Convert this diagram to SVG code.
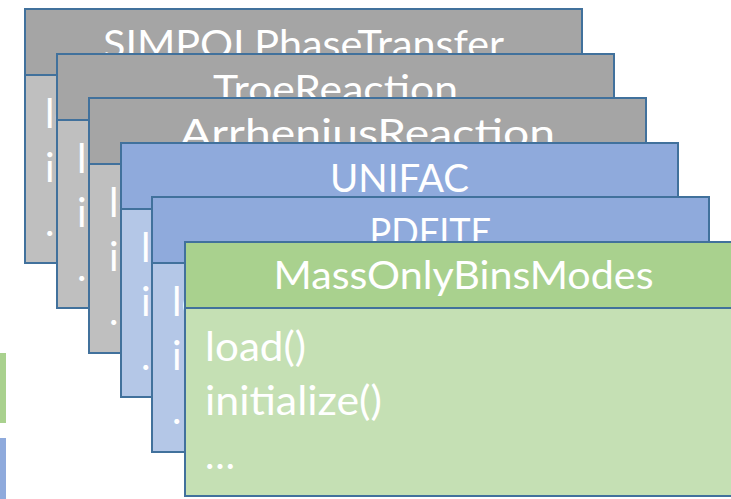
<svg xmlns="http://www.w3.org/2000/svg" width="731" height="499" viewBox="0 0 731 499">
  <style>
    .frame { stroke: #41719C; stroke-width: 2; }
    .hdr-gray { fill: #A5A5A5; }
    .body-gray { fill: #BFBFBF; }
    .hdr-blue { fill: #8FAADC; }
    .body-blue { fill: #B4C7E7; }
    .hdr-green { fill: #A9D18E; }
    .body-green { fill: #C5E0B4; }
    .title { font-family: Lato, "Open Sans", "Liberation Sans", sans-serif; font-size: 39px; fill: #FFFFFF; text-anchor: middle; }
    .item { font-family: Lato, "Open Sans", "Liberation Sans", sans-serif; font-size: 40px; fill: #FFFFFF; }
  </style>

  <defs>
    <!-- visible parts of each card that is partly covered by the next one -->
    <clipPath id="t1"><rect x="25" y="9" width="557" height="45"/></clipPath>
    <clipPath id="b1"><rect x="25" y="75" width="32" height="188"/></clipPath>
    <clipPath id="t2"><rect x="57" y="54" width="557" height="44"/></clipPath>
    <clipPath id="b2"><rect x="57" y="120" width="32" height="188"/></clipPath>
    <clipPath id="t3"><rect x="89" y="98" width="557" height="45"/></clipPath>
    <clipPath id="b3"><rect x="89" y="164" width="32" height="189"/></clipPath>
    <clipPath id="t4"><rect x="121" y="143" width="557" height="54"/></clipPath>
    <clipPath id="b4"><rect x="121" y="209" width="31" height="188"/></clipPath>
    <clipPath id="t5"><rect x="152" y="197" width="557" height="45"/></clipPath>
    <clipPath id="b5"><rect x="152" y="263" width="33" height="189"/></clipPath>
  </defs>

  <rect width="731" height="499" fill="#FFFFFF"/>

  <!-- partial swatches at the left margin -->
  <g id="swatches">
    <rect x="-2" y="353" width="8" height="70" fill="#A9D18E"/>
    <rect x="-2" y="438" width="8" height="63" fill="#8FAADC"/>
  </g>

  <!-- stacked class cards, back to front -->
  <g id="card-simpol">
    <rect class="frame body-gray" x="25" y="75" width="557" height="188"/>
    <rect class="frame hdr-gray" x="25" y="9" width="557" height="66"/>
    <text class="title" x="303.5" y="57.5" textLength="401" lengthAdjust="spacingAndGlyphs" clip-path="url(#t1)">SIMPOLPhaseTransfer</text>
    <g clip-path="url(#b1)">
      <text class="item" x="45" y="128">load()</text>
      <text class="item" x="45" y="182">initialize()</text>
      <text class="item" x="45" y="236">…</text>
    </g>
  </g>

  <g id="card-troe">
    <rect class="frame body-gray" x="57" y="120" width="557" height="188"/>
    <rect class="frame hdr-gray" x="57" y="54" width="557" height="66"/>
    <text class="title" x="335.5" y="102.5" textLength="245" lengthAdjust="spacingAndGlyphs" clip-path="url(#t2)">TroeReaction</text>
    <g clip-path="url(#b2)">
      <text class="item" x="77" y="173">load()</text>
      <text class="item" x="77" y="227">initialize()</text>
      <text class="item" x="77" y="281">…</text>
    </g>
  </g>

  <g id="card-arrhenius">
    <rect class="frame body-gray" x="89" y="164" width="557" height="189"/>
    <rect class="frame hdr-gray" x="89" y="98" width="557" height="66"/>
    <text class="title" x="367.5" y="146.5" textLength="375" lengthAdjust="spacingAndGlyphs" clip-path="url(#t3)">ArrheniusReaction</text>
    <g clip-path="url(#b3)">
      <text class="item" x="109" y="217">load()</text>
      <text class="item" x="109" y="271">initialize()</text>
      <text class="item" x="109" y="325">…</text>
    </g>
  </g>

  <g id="card-unifac">
    <rect class="frame body-blue" x="121" y="209" width="557" height="188"/>
    <rect class="frame hdr-blue" x="121" y="143" width="557" height="66"/>
    <text class="title" x="399.5" y="191.7" textLength="139" lengthAdjust="spacingAndGlyphs" clip-path="url(#t4)">UNIFAC</text>
    <g clip-path="url(#b4)">
      <text class="item" x="141" y="262">load()</text>
      <text class="item" x="141" y="316">initialize()</text>
      <text class="item" x="141" y="370">…</text>
    </g>
  </g>

  <g id="card-pdfite">
    <rect class="frame body-blue" x="152" y="263" width="557" height="189"/>
    <rect class="frame hdr-blue" x="152" y="197" width="557" height="66"/>
    <text class="title" x="430.5" y="245.5" textLength="122" lengthAdjust="spacingAndGlyphs" clip-path="url(#t5)">PDFITE</text>
    <g clip-path="url(#b5)">
      <text class="item" x="172" y="316">load()</text>
      <text class="item" x="172" y="370">initialize()</text>
      <text class="item" x="172" y="424">…</text>
    </g>
  </g>

  <g id="card-massonly">
    <rect class="frame body-green" x="185" y="308" width="557" height="188"/>
    <rect class="frame hdr-green" x="185" y="242" width="557" height="66"/>
    <text class="title" x="463.5" y="289.3" textLength="380" lengthAdjust="spacingAndGlyphs">MassOnlyBinsModes</text>
    <text class="item" x="205" y="361" textLength="101" lengthAdjust="spacingAndGlyphs">load()</text>
    <text class="item" x="205" y="415" textLength="177" lengthAdjust="spacingAndGlyphs">initialize()</text>
    <text class="item" x="205" y="469">…</text>
  </g>

  <g id="connectors"></g>
</svg>
